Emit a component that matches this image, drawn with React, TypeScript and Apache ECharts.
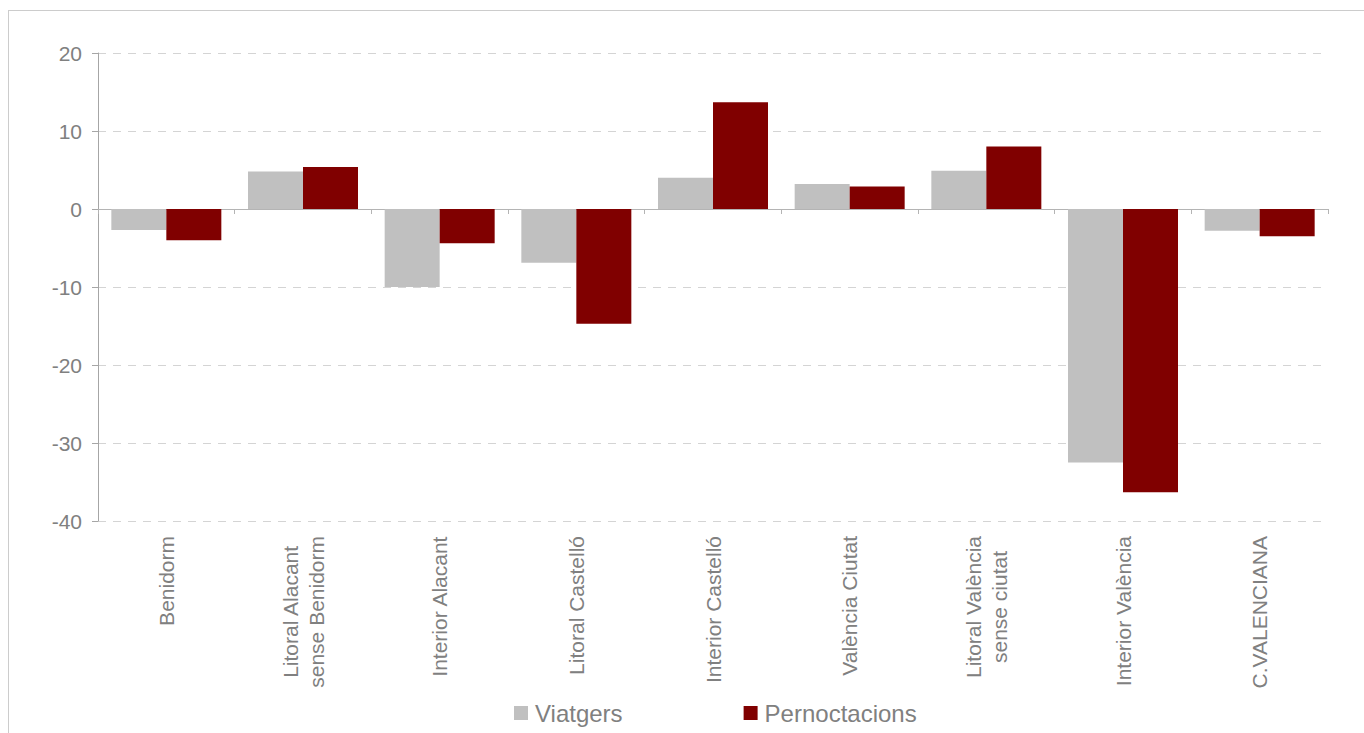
import React, { useEffect, useRef } from "react";
import * as echarts from "echarts";

const categories = [
  "Benidorm",
  "Litoral Alacant\nsense Benidorm",
  "Interior Alacant",
  "Litoral Castelló",
  "Interior Castelló",
  "València Ciutat",
  "Litoral València\nsense ciutat",
  "Interior València",
  "C.VALENCIANA",
];
const viatgers = [-2.7, 4.8, -10.0, -6.9, 4.0, 3.2, 4.9, -32.5, -2.8];
const pernoctacions = [-4.0, 5.4, -4.4, -14.7, 13.7, 2.9, 8.0, -36.3, -3.5];
const seriesNames = ["Viatgers", "Pernoctacions"];

const FONT = "'Liberation Sans', Arial, sans-serif";
const TXT = "#808080";

export default function App() {
  const ref = useRef<HTMLDivElement>(null);
  useEffect(() => {
    if (!ref.current) return;
    const chart = echarts.init(ref.current, null, { renderer: "svg" });
    chart.setOption({
      animation: false,
      grid: { left: 89, right: 36, top: 42, bottom: 212 },
      legend: {
        left: 505,
        top: 690,
        padding: 0,
        itemWidth: 14,
        itemHeight: 14,
        itemGap: 121,
        icon: "rect",
        textStyle: { fontSize: 24, color: TXT, fontFamily: FONT, padding: [0, 0, 0, 2] },
        data: seriesNames,
      },
      xAxis: [
        {
          type: "category",
          data: categories,
          position: "top",
          axisLine: { show: true, onZero: true, lineStyle: { color: "#b4b4b4", width: 1 } },
          axisTick: { show: true, inside: true, length: 5, lineStyle: { color: "#b4b4b4" } },
          axisLabel: { show: false },
          splitLine: { show: false },
        },
        {
          type: "category",
          data: categories,
          position: "bottom",
          axisLine: { show: false, onZero: false },
          axisTick: { show: false },
          splitLine: { show: false },
          axisLabel: {
            show: true,
            interval: 0,
            rotate: 90,
            margin: 15,
            fontSize: 21,
            color: TXT,
            fontFamily: FONT,
            formatter: (v: string) =>
              v
                .split("\n")
                .map((l) => `{c|${l}}`)
                .join("\n"),
            rich: {
              c: { align: "center", fontSize: 21, color: TXT, fontFamily: FONT, lineHeight: 26 },
            },
          },
        },
      ],
      yAxis: {
        type: "value",
        min: -40,
        max: 20,
        interval: 10,
        axisLine: { show: true, lineStyle: { color: "#a6a6a6" } },
        axisTick: { show: true, length: 6, lineStyle: { color: "#a6a6a6" } },
        axisLabel: { fontSize: 21, color: TXT, fontFamily: FONT, margin: 16 },
        splitLine: { show: true, lineStyle: { color: "#d4d4d4", type: [8, 7], width: 1 } },
      },
      series: [
        {
          name: seriesNames[0],
          type: "bar",
          xAxisIndex: 0,
          data: viatgers,
          barWidth: 55,
          barGap: "0%",
          itemStyle: { color: "#c0c0c0" },
        },
        {
          name: seriesNames[1],
          type: "bar",
          xAxisIndex: 0,
          data: pernoctacions,
          barWidth: 55,
          barGap: "0%",
          itemStyle: { color: "#800000" },
        },
      ],
    });
    return () => chart.dispose();
  }, []);
  return (
    <div
      style={{
        position: "fixed",
        left: 8,
        top: 10,
        width: 1356,
        height: 723,
        boxSizing: "border-box",
        borderTop: "1px solid #cccccc",
        borderLeft: "1px solid #cccccc",
        background: "#fff",
      }}
    >
      <div ref={ref} style={{ width: "100%", height: "100%" }} />
    </div>
  );
}
